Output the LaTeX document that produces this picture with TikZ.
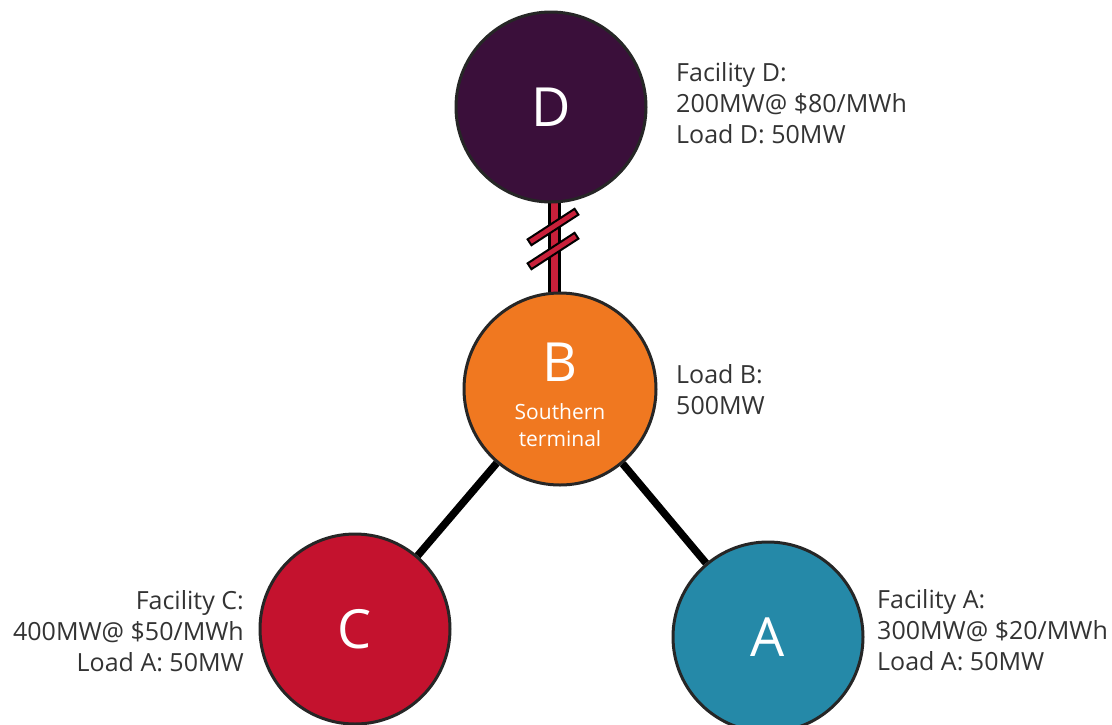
\documentclass[tikz,border=0pt]{standalone}
\usepackage{fontspec}
\setmainfont{Open Sans}
\definecolor{cD}{HTML}{3A0F3A}
\definecolor{cB}{HTML}{F07820}
\definecolor{cC}{HTML}{C4122E}
\definecolor{cA}{HTML}{2589A8}
\definecolor{cLine}{HTML}{C8203A}
\definecolor{txt}{HTML}{333333}
\tikzset{
  bus/.style={circle, draw=black!85, line width=3pt, minimum size=190pt, inner sep=0pt, text=white, font=\fontsize{54}{58}\selectfont},
  info/.style={text=txt, font=\fontsize{25}{31}\selectfont, inner sep=0pt},
  wire/.style={line width=7.5pt, black},
  brk/.style={rectangle, draw=black, fill=cLine, line width=2pt, minimum width=56pt, minimum height=7pt, inner sep=0pt, rotate=33},
}
\begin{document}
\begin{tikzpicture}[x=1pt,y=-1pt]
\useasboundingbox (0,0) rectangle (1112,724);
% D-B line
\coordinate (d1) at (554.5,198);
\coordinate (b1) at (554.5,297);
\draw[line width=13pt, black] (d1) -- (b1);
\draw[line width=7pt, cLine] ([yshift=-1pt]d1) -- ([yshift=1pt]b1);
\node[brk] (k1) at (553,227) {};
\node[brk] (k2) at (553,251) {};
% buses
\node[bus, fill=cD] (D) at (551,107) {D};
\node[bus, fill=cB, minimum size=192pt] (B) at (560,389) {};
\node[bus, fill=cC] (C) at (355,629) {C};
\node[bus, fill=cA] (A) at (768,637) {A};
\node[text=white, font=\fontsize{54}{58}\selectfont, inner sep=0pt] (Bl) at (560,362) {B};
\node[text=white, font=\fontsize{21}{27}\selectfont, align=center, inner sep=0pt] (Bs) at (560,425) {Southern\\terminal};
% other lines
\draw[wire] (B) -- (C);
\draw[wire] (B) -- (A);
% labels
\node[info, anchor=north west, align=left] (lD) at (676,62) {Facility D:\\200MW@ \$80/MWh\\Load D: 50MW};
\node[info, anchor=north west, align=left] (lB) at (676,364) {Load B:\\500MW};
\node[info, anchor=north west, align=left] (lA) at (877,589) {Facility A:\\300MW@ \$20/MWh\\Load A: 50MW};
\node[info, anchor=north east, align=right] (lC) at (244,590) {Facility C:\\400MW@ \$50/MWh\\Load A: 50MW};
\end{tikzpicture}
\end{document}
